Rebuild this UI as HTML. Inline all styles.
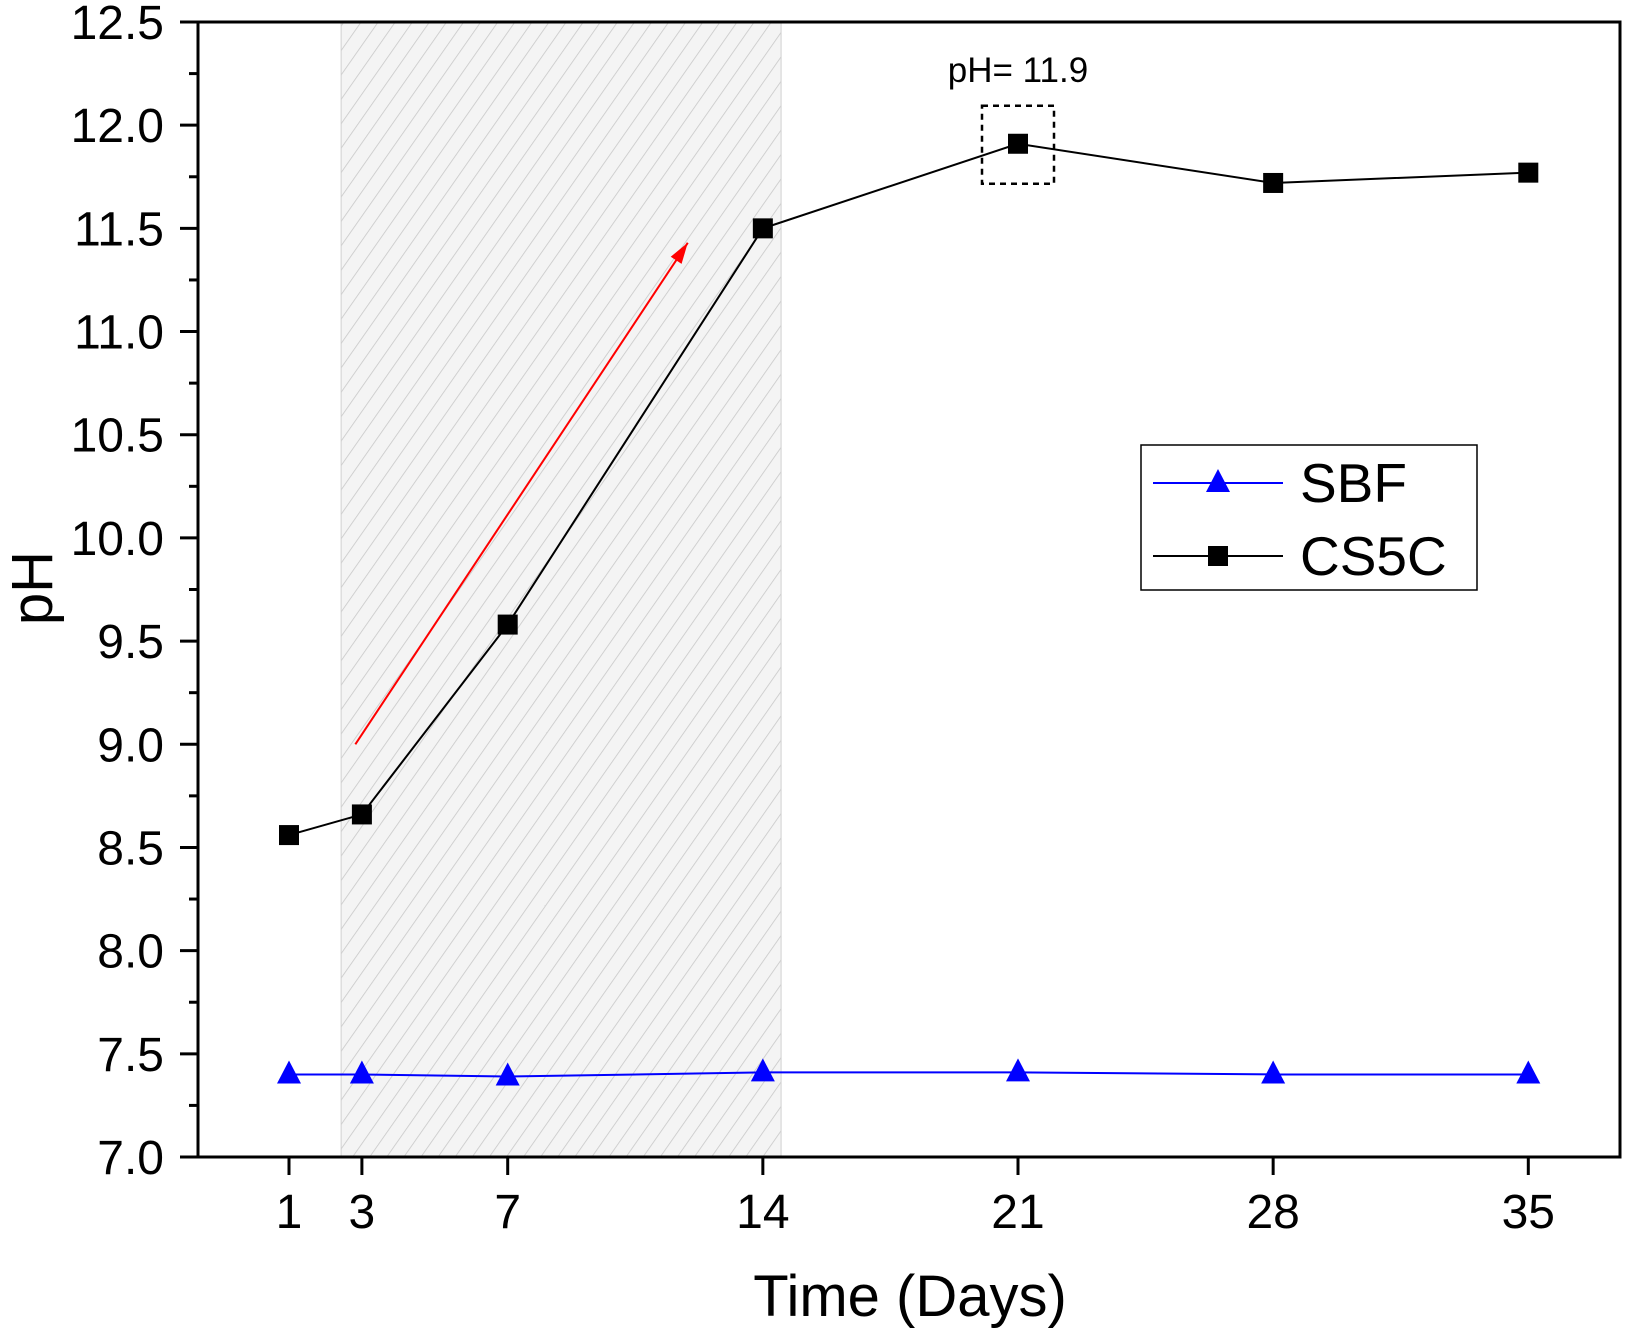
<!DOCTYPE html>
<html><head><meta charset="utf-8"><style>
html,body{margin:0;padding:0;background:#fff}
svg{display:block;font-family:"Liberation Sans",Arial,sans-serif}
</style></head><body>
<svg id="chart" width="1625" height="1333" viewBox="0 0 1625 1333">
<defs>
<pattern id="hatch" patternUnits="userSpaceOnUse" width="14" height="14" patternTransform="rotate(35)">
<rect width="14" height="14" fill="#f4f4f4"/>
<line x1="0" y1="0" x2="0" y2="14" stroke="#c8c8c8" stroke-width="1.6"/>
</pattern>
</defs>
<g id="plot"></g>
</svg>
<script>
const days = [1, 3, 7, 14, 21, 28, 35];
const xTicks = [1, 3, 7, 14, 21, 28, 35];
const yTicks = [7.0, 7.5, 8.0, 8.5, 9.0, 9.5, 10.0, 10.5, 11.0, 11.5, 12.0, 12.5];
const sbf = [7.40, 7.40, 7.39, 7.41, 7.41, 7.40, 7.40];
const cs5c = [8.56, 8.66, 9.58, 11.50, 11.91, 11.72, 11.77];
const shadeDays = [2.43, 14.5];
const arrowDays = [2.82, 11.94];
const arrowPH = [9.0, 11.43];
const peakLabel = "pH= 11.9";

const NS = "http://www.w3.org/2000/svg";
const g = document.getElementById('plot');
const L = 198, R = 1620, T = 22, B = 1157;
const X = d => 289 + (d - 1) * 36.45;
const Y = v => B - (v - 7.0) / 5.5 * (B - T);
function el(tag, attrs, parent) {
  const e = document.createElementNS(NS, tag);
  for (const k in attrs) e.setAttribute(k, attrs[k]);
  (parent || g).appendChild(e);
  return e;
}
let e = el('rect', {x: X(shadeDays[0]), y: T, width: X(shadeDays[1]) - X(shadeDays[0]), height: B - T, fill: 'url(#hatch)', stroke: '#d0d0d0', 'stroke-width': 1});


e = el('rect', {x: L, y: T, width: R - L, height: B - T, fill: 'none', stroke: '#000', 'stroke-width': 3});


yTicks.forEach((v, i) => {
  let t = el('line', {x1: 180, x2: L, y1: Y(v), y2: Y(v), stroke: '#000', 'stroke-width': 3});
  
  
  if (i < yTicks.length - 1) {
    let m = el('line', {x1: 189, x2: L, y1: Y(v + 0.25), y2: Y(v + 0.25), stroke: '#000', 'stroke-width': 3});
    
    
  }
  let tx = el('text', {x: 164, y: Y(v) + 17, 'text-anchor': 'end', 'font-size': 48});
  tx.textContent = v.toFixed(1);
  
  
});
xTicks.forEach(d => {
  let t = el('line', {x1: X(d), x2: X(d), y1: B, y2: B + 18, stroke: '#000', 'stroke-width': 3});
  
  
  let tx = el('text', {x: X(d), y: 1228, 'text-anchor': 'middle', 'font-size': 48});
  tx.textContent = d;
  
  
});
e = el('text', {x: 910, y: 1316, 'text-anchor': 'middle', 'font-size': 58});
e.textContent = 'Time (Days)';


e = el('text', {x: 0, y: 0, 'text-anchor': 'middle', 'font-size': 58, transform: 'translate(52,588) rotate(-90)'});
e.textContent = 'pH';


const ax1 = X(arrowDays[0]), ay1 = Y(arrowPH[0]), ax2 = X(arrowDays[1]), ay2 = Y(arrowPH[1]);
e = el('line', {x1: ax1, y1: ay1, x2: ax2, y2: ay2, stroke: '#ff0000', 'stroke-width': 2});


const ang = Math.atan2(ay2 - ay1, ax2 - ax1);
const hp = (a, r) => [ax2 - r * Math.cos(ang + a), ay2 - r * Math.sin(ang + a)];
const p1 = hp(0.3, 22), p2 = hp(-0.3, 22);
e = el('polygon', {points: `${ax2},${ay2} ${p1[0]},${p1[1]} ${p2[0]},${p2[1]}`, fill: '#ff0000'});


function lineOf(vals, color, name) {
  const pts = days.map((d, i) => X(d) + ',' + Y(vals[i])).join(' ');
  let p = el('polyline', {points: pts, fill: 'none', stroke: color, 'stroke-width': 2});
  
  
}
lineOf(sbf, '#0000ff', 'sbf-line');
lineOf(cs5c, '#000', 'cs5c-line');
function tri(cx, cy, parent) {
  return el('polygon', {points: `${cx},${cy - 14} ${cx - 12},${cy + 9} ${cx + 12},${cy + 9}`, fill: '#0000ff'}, parent);
}
function sq(cx, cy, parent) {
  return el('rect', {x: cx - 10, y: cy - 10, width: 20, height: 20, fill: '#000'}, parent);
}
days.forEach((d, i) => {
  let m = tri(X(d), Y(sbf[i]));
  
  
  m = sq(X(d), Y(cs5c[i]));
  
  
});
const peakI = cs5c.indexOf(Math.max(...cs5c));
const px = X(days[peakI]), py = Y(cs5c[peakI]);
e = el('rect', {x: px - 36, y: py - 38, width: 72, height: 78, fill: 'none', stroke: '#000', 'stroke-width': 2.5, 'stroke-dasharray': '6,5'});


e = el('text', {x: px, y: 82, 'text-anchor': 'middle', 'font-size': 35});
e.textContent = peakLabel;


const lg = el('g', {});


el('rect', {x: 1141, y: 445, width: 336, height: 145, fill: '#fff', stroke: '#000', 'stroke-width': 1.5}, lg);
e = el('line', {x1: 1153, x2: 1283, y1: 483, y2: 483, stroke: '#0000ff', 'stroke-width': 2}, lg);


e = tri(1218, 483, lg);


e = el('text', {x: 1300, y: 502, 'font-size': 55}, lg);
e.textContent = 'SBF';


e = el('line', {x1: 1153, x2: 1283, y1: 556, y2: 556, stroke: '#000', 'stroke-width': 2}, lg);


e = sq(1218, 556, lg);


e = el('text', {x: 1300, y: 575, 'font-size': 55}, lg);
e.textContent = 'CS5C';


</script>
</body></html>
